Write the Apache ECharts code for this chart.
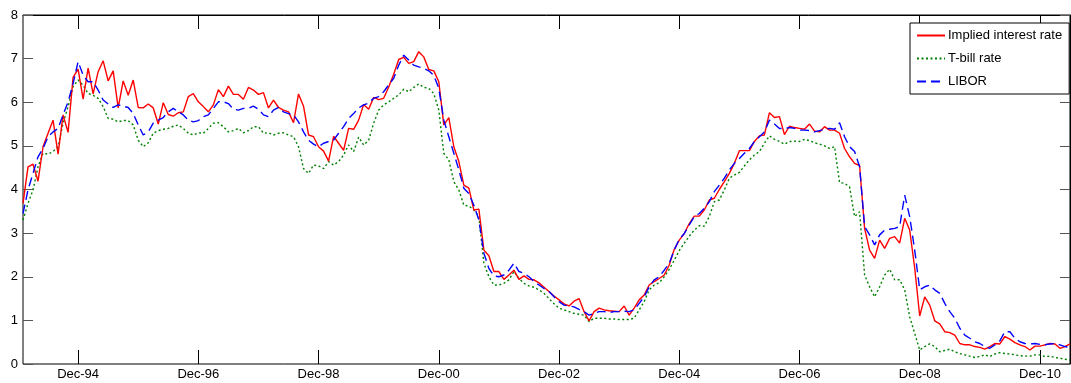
<!DOCTYPE html>
<html>
<head>
<meta charset="utf-8">
<script src="https://cdn.jsdelivr.net/npm/echarts@6/dist/echarts.min.js"></script>
<style>
    html, body { margin: 0; padding: 0; background: #fff; }
    #chart { width: 1071px; height: 383px; }
</style>
</head>
<body>
<div id="chart"></div>
<script>
// monthly, Jan-94 .. Jun-11
const startYear = 1994;
const monthNames = ['Jan', 'Feb', 'Mar', 'Apr', 'May', 'Jun', 'Jul', 'Aug', 'Sep', 'Oct', 'Nov', 'Dec'];
const tickLabels = ['Dec-94', 'Dec-96', 'Dec-98', 'Dec-00', 'Dec-02', 'Dec-04', 'Dec-06', 'Dec-08', 'Dec-10'];

const impliedRate = [
    3.68, 4.52, 4.58, 4.19, 4.98, 5.29, 5.59, 4.81, 5.71, 5.31, 6.57, 6.76,
    6.07, 6.78, 6.19, 6.70, 6.95, 6.49, 6.72, 5.87, 6.49, 6.16, 6.51, 5.88,
    5.87, 5.96, 5.87, 5.50, 5.99, 5.72, 5.68, 5.76, 5.78, 6.13, 6.20, 6.01,
    5.90, 5.78, 5.94, 6.29, 6.13, 6.37, 6.18, 6.18, 6.07, 6.34, 6.28, 6.18,
    6.22, 5.87, 6.05, 5.88, 5.82, 5.78, 5.53, 6.19, 5.91, 5.25, 5.21, 4.98,
    4.88, 4.65, 5.22, 5.06, 4.90, 5.40, 5.38, 5.59, 5.95, 5.84, 6.11, 6.06,
    6.09, 6.35, 6.64, 6.98, 7.03, 6.89, 6.93, 7.16, 7.04, 6.75, 6.72, 6.47,
    5.48, 5.65, 4.98, 4.64, 4.10, 4.03, 3.53, 3.55, 2.61, 2.48, 2.12, 2.12,
    1.94, 2.04, 2.15, 1.94, 2.02, 1.94, 1.93, 1.86, 1.76, 1.66, 1.56, 1.47,
    1.38, 1.33, 1.44, 1.50, 1.20, 0.99, 1.20, 1.28, 1.24, 1.22, 1.21, 1.20,
    1.33, 1.12, 1.28, 1.47, 1.58, 1.81, 1.89, 1.96, 2.04, 2.27, 2.63, 2.84,
    2.99, 3.22, 3.39, 3.39, 3.53, 3.76, 3.80, 4.00, 4.18, 4.37, 4.60, 4.89,
    4.89, 4.89, 5.10, 5.23, 5.25, 5.76, 5.65, 5.67, 5.26, 5.45, 5.42, 5.40,
    5.38, 5.50, 5.34, 5.32, 5.44, 5.36, 5.36, 5.29, 4.94, 4.75, 4.60, 4.55,
    3.11, 2.61, 2.42, 2.84, 2.65, 2.88, 2.92, 2.77, 3.34, 3.07, 2.20, 1.10,
    1.54, 1.35, 0.99, 0.92, 0.74, 0.72, 0.66, 0.47, 0.44, 0.44, 0.40, 0.38,
    0.34, 0.40, 0.47, 0.46, 0.63, 0.57, 0.49, 0.44, 0.40, 0.32, 0.41, 0.41,
    0.44, 0.47, 0.46, 0.36, 0.40, 0.46
];

const tbillRate = [
    3.30, 3.68, 3.99, 4.52, 4.83, 4.81, 4.87, 4.98, 5.52, 5.90, 6.36, 6.51,
    6.39, 6.20, 6.16, 6.09, 5.90, 5.63, 5.61, 5.55, 5.58, 5.58, 5.48, 5.13,
    4.98, 5.07, 5.29, 5.35, 5.38, 5.40, 5.45, 5.48, 5.40, 5.29, 5.25, 5.30,
    5.29, 5.40, 5.52, 5.53, 5.44, 5.32, 5.35, 5.40, 5.30, 5.35, 5.44, 5.44,
    5.29, 5.30, 5.25, 5.29, 5.30, 5.25, 5.21, 4.98, 4.48, 4.37, 4.56, 4.54,
    4.48, 4.64, 4.56, 4.64, 4.79, 5.02, 4.87, 5.20, 5.02, 5.13, 5.52, 5.82,
    5.94, 6.01, 6.09, 6.17, 6.30, 6.24, 6.34, 6.42, 6.34, 6.32, 6.20, 5.82,
    4.83, 4.68, 4.18, 3.99, 3.64, 3.62, 3.53, 3.38, 2.31, 2.00, 1.81, 1.81,
    1.85, 1.93, 2.12, 1.96, 1.85, 1.79, 1.76, 1.70, 1.62, 1.50, 1.38, 1.28,
    1.24, 1.20, 1.16, 1.14, 1.12, 0.97, 1.05, 1.05, 1.05, 1.03, 1.03, 1.02,
    1.02, 1.02, 1.05, 1.24, 1.43, 1.70, 1.81, 1.86, 2.00, 2.17, 2.38, 2.60,
    2.77, 2.93, 3.07, 3.17, 3.16, 3.38, 3.72, 3.76, 3.99, 4.26, 4.33, 4.39,
    4.54, 4.68, 4.79, 4.87, 5.06, 5.23, 5.15, 5.10, 5.04, 5.10, 5.11, 5.10,
    5.15, 5.12, 5.07, 5.04, 5.00, 4.94, 4.98, 4.16, 4.14, 4.06, 3.38, 3.49,
    2.04, 1.77, 1.54, 1.77, 2.04, 2.17, 1.93, 1.93, 1.70, 1.08, 0.70, 0.32,
    0.40, 0.46, 0.40, 0.28, 0.31, 0.34, 0.28, 0.24, 0.21, 0.18, 0.15, 0.17,
    0.21, 0.17, 0.23, 0.26, 0.24, 0.23, 0.21, 0.19, 0.18, 0.18, 0.21, 0.21,
    0.17, 0.18, 0.15, 0.13, 0.11, 0.09
];

const liborRate = [
    3.45, 3.99, 4.37, 4.75, 4.94, 5.21, 5.32, 5.40, 5.71, 6.01, 6.43, 6.93,
    6.62, 6.47, 6.47, 6.28, 6.05, 5.96, 5.88, 5.94, 5.91, 5.88, 5.74, 5.48,
    5.25, 5.32, 5.52, 5.59, 5.65, 5.78, 5.86, 5.78, 5.71, 5.59, 5.55, 5.58,
    5.67, 5.71, 5.86, 6.01, 6.01, 5.97, 5.84, 5.82, 5.86, 5.86, 5.91, 5.84,
    5.71, 5.67, 5.82, 5.88, 5.78, 5.74, 5.71, 5.55, 5.32, 5.13, 5.04, 4.98,
    5.06, 5.10, 5.13, 5.29, 5.44, 5.63, 5.74, 5.87, 5.94, 5.98, 6.09, 6.13,
    6.24, 6.40, 6.55, 6.85, 7.08, 6.97, 6.85, 6.81, 6.78, 6.72, 6.62, 6.32,
    5.59, 5.21, 4.83, 4.45, 4.03, 3.91, 3.64, 3.30, 2.54, 2.19, 2.02, 2.00,
    2.04, 2.15, 2.31, 2.12, 2.08, 2.00, 1.89, 1.81, 1.73, 1.66, 1.54, 1.43,
    1.35, 1.33, 1.31, 1.25, 1.20, 1.12, 1.16, 1.20, 1.20, 1.18, 1.20, 1.20,
    1.21, 1.20, 1.24, 1.39, 1.54, 1.77, 1.93, 2.00, 2.15, 2.31, 2.61, 2.86,
    2.99, 3.19, 3.38, 3.45, 3.57, 3.72, 3.95, 4.10, 4.26, 4.45, 4.60, 4.71,
    4.83, 4.94, 5.10, 5.21, 5.32, 5.59, 5.50, 5.40, 5.40, 5.42, 5.40, 5.36,
    5.36, 5.35, 5.32, 5.35, 5.38, 5.40, 5.38, 5.53, 5.21, 4.98, 4.87, 4.52,
    3.15, 2.96, 2.73, 2.96, 3.07, 3.09, 3.11, 3.15, 3.87, 3.38, 2.61, 1.70,
    1.77, 1.81, 1.70, 1.62, 1.39, 1.20, 1.05, 0.82, 0.66, 0.59, 0.51, 0.47,
    0.40, 0.36, 0.44, 0.53, 0.74, 0.74, 0.59, 0.51, 0.47, 0.46, 0.47, 0.45,
    0.44, 0.46, 0.47, 0.44, 0.40, 0.38
];

// category labels like 'Dec-94'
const months = [];
for (let i = 0; i < impliedRate.length; i++) {
    const y = startYear + Math.floor(i / 12);
    months.push(monthNames[i % 12] + '-' + String(y % 100).padStart(2, '0'));
}
const isTick = (idx, val) => tickLabels.indexOf(val) >= 0;

const fontFamily = 'Liberation Sans, Arial, sans-serif';

const myChart = echarts.init(document.getElementById('chart'));
const option = {
    animation: false,
    backgroundColor: '#fff',
    grid: {
        show: true,
        left: 23,
        right: 1,
        top: 15,
        bottom: 19,
        borderColor: '#000',
        borderWidth: 1,
        backgroundColor: '#fff'
    },
    legend: {
        orient: 'vertical',
        left: 910,
        top: 23,
        padding: [6, 7, 6, 6],
        itemWidth: 28,
        itemHeight: 14,
        itemGap: 10,
        backgroundColor: '#fff',
        borderColor: '#000',
        borderWidth: 1,
        borderRadius: 0,
        itemStyle: { opacity: 0 },
        textStyle: { color: '#000', fontSize: 13, fontFamily: fontFamily, padding: [0, 0, 0, -2] },
        data: ['Implied interest rate', 'T-bill rate', 'LIBOR']
    },
    xAxis: [{
        type: 'category',
        boundaryGap: false,
        data: months,
        axisLine: { show: false },
        axisTick: { inside: true, length: 14, interval: isTick, lineStyle: { color: '#000' } },
        axisLabel: { interval: isTick, color: '#000', fontSize: 13, fontFamily: fontFamily, margin: 4 },
        splitLine: { show: false }
    }, {
        type: 'category',
        position: 'top',
        boundaryGap: false,
        data: months,
        axisLine: { show: true, onZero: false, lineStyle: { color: '#000' } },
        axisTick: { show: true, inside: true, length: 14, interval: isTick, lineStyle: { color: '#000' } },
        axisLabel: { show: false },
        splitLine: { show: false }
    }],
    yAxis: [{
        type: 'value',
        min: 0,
        max: 8,
        interval: 1,
        axisLine: { show: false },
        axisTick: { show: true, inside: true, length: 10, lineStyle: { color: '#555' } },
        axisLabel: { color: '#000', fontSize: 13, fontFamily: fontFamily, margin: 5 },
        splitLine: { show: false }
    }, {
        type: 'value',
        position: 'right',
        min: 0,
        max: 8,
        interval: 1,
        axisLine: { show: true, onZero: false, lineStyle: { color: '#000' } },
        axisTick: { show: true, inside: true, length: 10, lineStyle: { color: '#555' } },
        axisLabel: { show: false },
        splitLine: { show: false }
    }],
    series: [{
        name: 'Implied interest rate',
        type: 'line',
        data: impliedRate,
        symbol: 'none',
        z: 3,
        lineStyle: { color: '#ff0000', width: 1.4, type: 'solid' },
        itemStyle: { color: '#ff0000' }
    }, {
        name: 'T-bill rate',
        type: 'line',
        data: tbillRate,
        symbol: 'none',
        z: 2,
        lineStyle: { color: '#008000', width: 1.4, type: [2, 2.5] },
        itemStyle: { color: '#008000' }
    }, {
        name: 'LIBOR',
        type: 'line',
        data: liborRate,
        symbol: 'none',
        z: 4,
        lineStyle: { color: '#0000ff', width: 1.4, type: [9, 5] },
        itemStyle: { color: '#0000ff' }
    }]
};
myChart.setOption(option);
</script>
</body>
</html>
